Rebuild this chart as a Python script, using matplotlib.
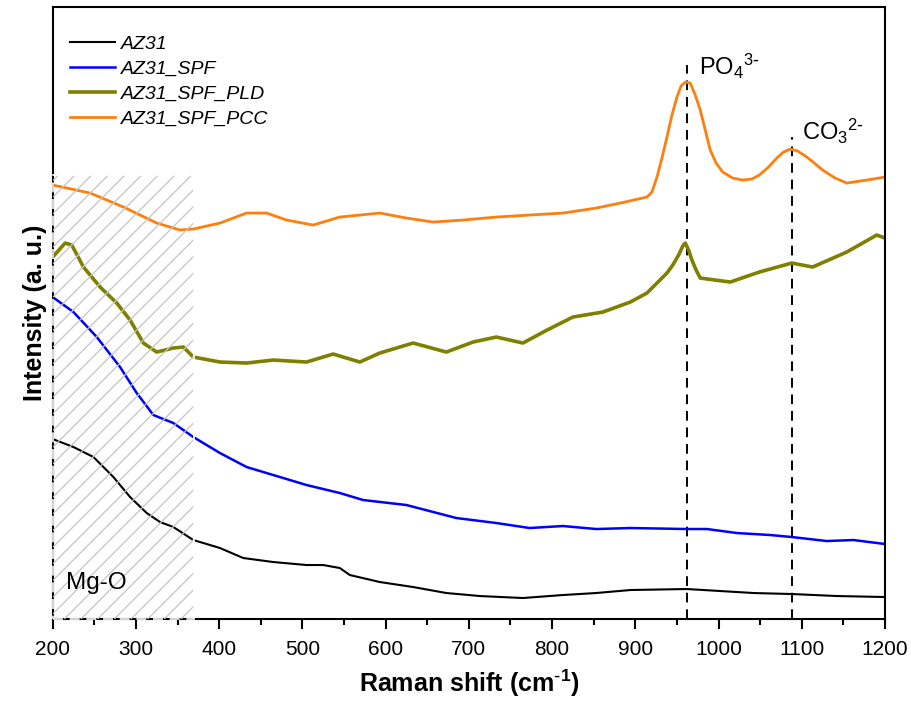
import matplotlib
matplotlib.use('Agg')
import matplotlib.pyplot as plt
from matplotlib.patches import Rectangle
from matplotlib.ticker import MultipleLocator

plt.rcParams['font.family'] = ['Liberation Sans', 'DejaVu Sans']
plt.rcParams['mathtext.default'] = 'regular'
plt.rcParams['hatch.linewidth'] = 0.9

# Raman spectra (intensity in arbitrary units, offset stacked)
az31_x = [200, 225, 249, 273, 293, 313, 329, 345, 369, 401, 429, 465, 505, 525, 545,
          557, 593, 633, 673, 713, 765, 813, 853, 894, 962, 1002, 1042, 1088, 1142, 1200]
az31_y = [180, 172, 162, 142, 122, 106, 97, 92, 79, 71, 61, 57, 54, 54, 51,
          44, 37, 32, 26, 23, 21, 24, 26, 29, 30, 28, 26, 25, 23, 22]

spf_x = [200, 225, 253, 281, 301, 321, 345, 369, 401, 433, 465, 505, 545, 573, 625,
         685, 733, 773, 813, 853, 894, 962, 986, 1022, 1062, 1088, 1130, 1162, 1200]
spf_y = [322, 307, 282, 252, 226, 204, 196, 182, 166, 152, 144, 134, 126, 119, 114,
         101, 96, 91, 93, 90, 91, 90, 90, 86, 84, 82, 78, 79, 75]

pld_x = [200, 215, 223, 237, 257, 277, 293, 309, 325, 345, 357, 369, 401, 433, 465,
         505, 537, 569, 593, 633, 673, 705, 733, 765, 794, 825, 861, 894, 914, 938,
         945, 952, 957, 960, 964, 968, 973, 978, 1014, 1049, 1088, 1113, 1154, 1190, 1200]
pld_y = [362, 376, 374, 352, 332, 316, 299, 276, 267, 271, 272, 262, 257, 256, 259,
         257, 265, 257, 266, 276, 267, 277, 282, 276, 289, 302, 307, 317, 326, 346,
         354, 364, 373, 376, 369, 359, 349, 341, 337, 347, 356, 352, 367, 384, 381]

pcc_x = [200, 245, 285, 325, 353, 369, 401, 433, 457, 481, 513, 545, 593, 625, 657,
         693, 733, 773, 813, 853, 882, 914, 920, 926, 932, 938, 944, 950, 955, 960,
         966, 972, 978, 984, 990, 997, 1005, 1017, 1029, 1040, 1049, 1060, 1070, 1078,
         1086, 1095, 1106, 1115, 1125, 1140, 1154, 1178, 1200]
pcc_y = [434, 426, 412, 396, 389, 390, 396, 406, 406, 399, 394, 402, 406, 401, 397,
         399, 402, 404, 406, 411, 416, 422, 427, 442, 461, 482, 504, 522, 533, 537,
         536, 524, 509, 489, 469, 456, 447, 441, 439, 440, 444, 452, 461, 467,
         470, 468, 462, 456, 449, 441, 436, 439, 442]

labels = ['AZ31', 'AZ31_SPF', 'AZ31_SPF_PLD', 'AZ31_SPF_PCC']
colors = ['black', '#0000ff', '#7f7f00', '#ff7f0e']

po4_pos = 962
co3_pos = 1088

fig = plt.figure(figsize=(9.11, 7.06), dpi=100)
ax = fig.add_axes([0.0578, 0.1232, 0.9137, 0.8668])

ax.plot(az31_x, az31_y, color=colors[0], lw=1.5, label=labels[0])
ax.plot(spf_x, spf_y, color=colors[1], lw=1.8, label=labels[1])
ax.plot(pld_x, pld_y, color=colors[2], lw=2.6, label=labels[2])
ax.plot(pcc_x, pcc_y, color=colors[3], lw=2.0, label=labels[3])

# Mg-O hatched region
ax.add_patch(Rectangle((200, 0), 170, 444, facecolor='none', edgecolor='#c4c4c4',
                       hatch='//', lw=0, zorder=3))
ax.add_patch(Rectangle((200, 0), 170, 444, facecolor='none', edgecolor='white',
                       lw=1.2, ls=(0, (6, 4)), zorder=3, clip_on=False))
ax.text(216, 30, 'Mg-O', fontsize=17.5, zorder=4)

# peak markers
ax.plot([po4_pos, po4_pos], [0, 554], color='black', lw=1.4, ls=(0, (5, 3.5)), zorder=1)
ax.plot([co3_pos, co3_pos], [0, 482], color='black', lw=1.4, ls=(0, (5, 3.5)), zorder=1)
ax.text(977, 544, r'PO$_4$$^{3\text{-}}$', fontsize=17)
ax.text(1100, 479, r'CO$_3$$^{2\text{-}}$', fontsize=17)

ax.set_xlim(200, 1200)
ax.set_ylim(0, 612)
ax.set_yticks([])
ax.xaxis.set_major_locator(MultipleLocator(100))
ax.xaxis.set_minor_locator(MultipleLocator(50))
ax.tick_params(axis='x', which='major', direction='out', length=7, width=1.5,
               labelsize=15, pad=8)
ax.tick_params(axis='x', which='minor', direction='out', length=4, width=1.5)
for sp in ax.spines.values():
    sp.set_linewidth(1.5)

ax.set_xlabel(r'Raman shift (cm$^{\text{-}1}$)', fontsize=18, fontweight='bold', labelpad=6)
ax.set_ylabel('Intensity (a. u.)', fontsize=18, fontweight='bold', labelpad=4)

leg = ax.legend(loc='upper left', bbox_to_anchor=(0.0, 0.982), frameon=False,
                fontsize=14, handlelength=2.3, labelspacing=0.38, handletextpad=0.3,
                borderaxespad=0.5)
for t in leg.get_texts():
    t.set_fontstyle('italic')

fig.savefig('out.png', dpi=100)
